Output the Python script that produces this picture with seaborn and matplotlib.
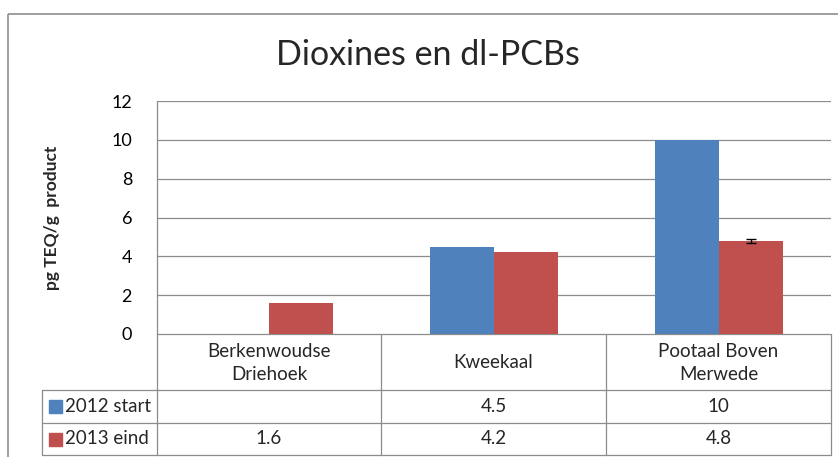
import numpy as np
import pandas as pd
import matplotlib
matplotlib.use("Agg")
import matplotlib.pyplot as plt
import seaborn as sns
from matplotlib.patches import Rectangle

# data
locaties = ["Berkenwoudse\nDriehoek", "Kweekaal", "Pootaal Boven\nMerwede"]
series = ["2012 start", "2013 eind"]
start_2012 = [np.nan, 4.5, 10]
eind_2013 = [1.6, 4.2, 4.8]
fout_2013 = [0, 0, 0.1]
yticks = [0, 2, 4, 6, 8, 10, 12]

blauw = "#4F81BD"
rood = "#C0504D"
grijs = "#8C8C8C"

df = pd.DataFrame({
    "locatie": locaties * 2,
    "serie": [series[0]] * 3 + [series[1]] * 3,
    "waarde": start_2012 + eind_2013,
})

sns.set_theme(style="white")
plt.rcParams["font.family"] = ["Lato", "DejaVu Sans"]

W, H = 838, 457
fig = plt.figure(figsize=(W / 100, H / 100), dpi=100)

# overlay in pixel units for border, table and title
over = fig.add_axes([0, 0, 1, 1])
over.set_xlim(0, W)
over.set_ylim(H, 0)
over.axis("off")

ax = fig.add_axes([157 / W, 1 - 334 / H, (831 - 157) / W, (334 - 101) / H])
sns.barplot(data=df, x="locatie", y="waarde", hue="serie", hue_order=series,
            palette=[blauw, rood], width=0.57, saturation=1, errorbar=None,
            legend=False, ax=ax, zorder=3, linewidth=0)

# error bar on the 2013 series
for i, p in enumerate(ax.containers[1]):
    if fout_2013[i] > 0:
        ax.errorbar(p.get_x() + p.get_width() / 2, eind_2013[i], yerr=fout_2013[i],
                    color="black", capsize=3.5, elinewidth=1, capthick=1, zorder=4)

ax.set_xlim(-0.5, 2.5)
ax.set_ylim(0, 12)
ax.set_yticks(yticks)
ax.set_yticklabels([str(t) for t in yticks], fontsize=13, color="black")
ax.set_xticks([])
ax.set_xlabel("")
ax.set_ylabel("")
ax.tick_params(axis="y", length=0, pad=18)
ax.grid(axis="y", color=grijs, linewidth=0.9, zorder=0)
for s in ["top", "right", "bottom"]:
    ax.spines[s].set_visible(False)
ax.spines["left"].set_color(grijs)
ax.spines["left"].set_linewidth(0.9)
ax.set_axisbelow(True)

fig.text(52 / W, 1 - 218 / H, "pg TEQ/g  product", rotation=90, fontsize=12.5,
         fontweight="bold", ha="center", va="center")
fig.text(428 / W, 1 - 55 / H, "Dioxines en dl-PCBs", fontsize=24.5,
         ha="center", va="center")

# outer chart border
over.add_patch(Rectangle((8, 14), 860, 460, fill=False, edgecolor="#8F8F8F",
                         linewidth=1.2, clip_on=False))

# data table under the chart
kol = [157, 381, 606, 831]
for x in kol:
    over.plot([x, x], [334, 455], color=grijs, lw=0.9)
over.plot([42, 42], [390, 455], color=grijs, lw=0.9)
for y in [390, 423, 455]:
    over.plot([42, 831], [y, y], color=grijs, lw=0.9)
over.plot([157, 831], [334, 334], color=grijs, lw=0.9)

rij_y = [406.5, 439]
for j, naam in enumerate(locaties):
    xc = (kol[j] + kol[j + 1]) / 2
    over.text(xc, 363, naam, ha="center", va="center", fontsize=13.5,
              linespacing=1.45)
    for r, vals in enumerate([start_2012, eind_2013]):
        if not np.isnan(vals[j]):
            over.text(xc, rij_y[r], f"{vals[j]:g}", ha="center", va="center",
                      fontsize=13.5)

for r, (naam, kleur) in enumerate(zip(series, [blauw, rood])):
    over.add_patch(Rectangle((49, rij_y[r] - 6.5), 13, 13, color=kleur))
    over.text(65, rij_y[r], naam, ha="left", va="center", fontsize=13.5)

fig.savefig("out.png", dpi=100)
